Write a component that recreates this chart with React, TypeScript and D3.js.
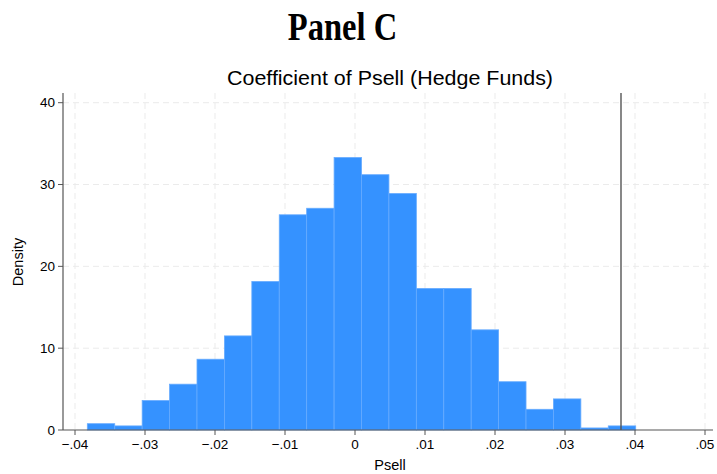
import React, { useEffect, useRef } from "react";
import * as d3 from "d3";

// histogram of Psell coefficient, 20 bins
const binStart = -0.03824;
const binWidth = 0.003917;
const densities = [
  0.77, 0.5, 3.6, 5.6, 8.65, 11.5, 18.15, 26.3, 27.1, 33.3,
  31.2, 28.9, 17.3, 17.3, 12.24, 5.9, 2.53, 3.8, 0.25, 0.5,
];
const actualCoef = 0.038;
const xTicks = [-0.04, -0.03, -0.02, -0.01, 0, 0.01, 0.02, 0.03, 0.04, 0.05];
const yTicks = [0, 10, 20, 30, 40];

const width = 717;
const height = 474;
const marginLeft = 63;
const marginRight = 4;
const marginTop = 93;
const marginBottom = 44;

const fmt = (v: number) => {
  if (v === 0) return "0";
  const s = d3.format(".2f")(v);
  return s.replace("0.", ".");
};

export default function App() {
  const gRef = useRef<SVGGElement>(null);

  const x = d3
    .scaleLinear()
    .domain([-0.04, 0.05])
    .range([75, 705]);
  const y = d3
    .scaleLinear()
    .domain([0, 40])
    .range([height - marginBottom, 102.7]);

  useEffect(() => {
    if (!gRef.current) return;
    const g = d3.select(gRef.current);
    g.selectAll("*").remove();

    const left = marginLeft;
    const right = width - marginRight;
    const bottom = height - marginBottom;

    // grid
    g.append("g")
      .selectAll("line")
      .data(yTicks.filter((d) => d > 0))
      .join("line")
      .attr("x1", left)
      .attr("x2", right)
      .attr("y1", (d) => y(d))
      .attr("y2", (d) => y(d))
      .attr("stroke", "#ebebeb")
      .attr("stroke-width", 1)
      .attr("stroke-dasharray", "6,4");
    g.append("g")
      .selectAll("line")
      .data(xTicks)
      .join("line")
      .attr("x1", (d) => x(d))
      .attr("x2", (d) => x(d))
      .attr("y1", marginTop)
      .attr("y2", bottom)
      .attr("stroke", "#ebebeb")
      .attr("stroke-width", 1)
      .attr("stroke-dasharray", "6,4");

    // bars
    g.append("g")
      .selectAll("rect")
      .data(densities)
      .join("rect")
      .attr("x", (_, i) => x(binStart + i * binWidth))
      .attr("width", (_, i) => x(binStart + (i + 1) * binWidth) - x(binStart + i * binWidth))
      .attr("y", (d) => y(d))
      .attr("height", (d) => bottom - y(d))
      .attr("fill", "#3592ff")
      .attr("stroke", "#66abff")
      .attr("stroke-width", 0.8);

    // reference line
    g.append("line")
      .attr("x1", x(actualCoef))
      .attr("x2", x(actualCoef))
      .attr("y1", marginTop)
      .attr("y2", bottom)
      .attr("stroke", "#555")
      .attr("stroke-width", 1.4);

    // axes
    const xAxis = g
      .append("g")
      .attr("transform", `translate(0,${bottom})`);
    xAxis
      .append("line")
      .attr("x1", left)
      .attr("x2", right)
      .attr("stroke", "#555")
      .attr("stroke-width", 1.2);
    xAxis
      .selectAll("line.tick")
      .data(xTicks)
      .join("line")
      .attr("class", "tick")
      .attr("x1", (d) => x(d))
      .attr("x2", (d) => x(d))
      .attr("y1", 0)
      .attr("y2", 5)
      .attr("stroke", "#555");
    xAxis
      .selectAll("text")
      .data(xTicks)
      .join("text")
      .attr("x", (d) => x(d))
      .attr("y", 19)
      .attr("text-anchor", "middle")
      .attr("font-size", 13.5)
      .text((d) => fmt(d));

    const yAxis = g.append("g").attr("transform", `translate(${left},0)`);
    yAxis
      .append("line")
      .attr("y1", marginTop)
      .attr("y2", bottom)
      .attr("stroke", "#555")
      .attr("stroke-width", 1.2);
    yAxis
      .selectAll("line.tick")
      .data(yTicks)
      .join("line")
      .attr("class", "tick")
      .attr("x1", -5)
      .attr("x2", 0)
      .attr("y1", (d) => y(d))
      .attr("y2", (d) => y(d))
      .attr("stroke", "#555");
    yAxis
      .selectAll("text")
      .data(yTicks)
      .join("text")
      .attr("x", -8)
      .attr("y", (d) => y(d))
      .attr("dy", "0.35em")
      .attr("text-anchor", "end")
      .attr("font-size", 13.5)
      .text((d) => String(d));
  }, []);

  return (
    <svg
      width={width}
      height={height}
      style={{ position: "absolute", left: 0, top: 0, background: "#fff" }}
      fontFamily="'Liberation Sans', Arial, sans-serif"
    >
      <text
        transform="translate(342.5,40) scale(1.05,1.3)"
        textAnchor="middle"
        fontFamily="'Liberation Serif', 'Times New Roman', serif"
        fontWeight="bold"
        fontSize={31}
      >
        Panel C
      </text>
      <text x={390} y={85} textAnchor="middle" fontSize={20} textLength={326} lengthAdjust="spacingAndGlyphs">
        Coefficient of Psell (Hedge Funds)
      </text>
      <g ref={gRef} />
      <text x={390} y={470} textAnchor="middle" fontSize={14.5}>
        Psell
      </text>
      <text
        transform="translate(23,262) rotate(-90)"
        textAnchor="middle"
        fontSize={14.5}
      >
        Density
      </text>
    </svg>
  );
}
